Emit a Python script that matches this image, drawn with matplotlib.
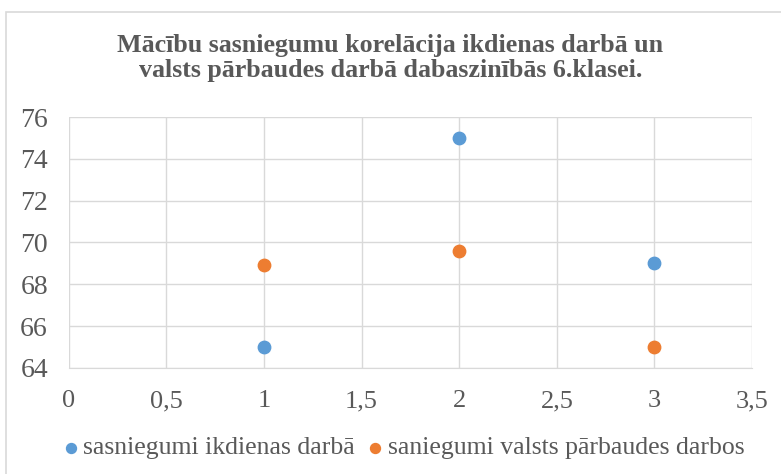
import matplotlib.pyplot as plt
from matplotlib.patches import Rectangle
from matplotlib.ticker import FuncFormatter

x_vals = [1, 2, 3]
ikdienas = [65, 75, 69]
parbaudes = [68.9, 69.6, 65]
labels = ["sasniegumi ikdienas darbā", "saniegumi valsts pārbaudes darbos"]
title = "Mācību sasniegumu korelācija ikdienas darbā un\nvalsts pārbaudes darbā dabaszinībās 6.klasei."

plt.rcParams['font.family'] = ['Liberation Serif', 'DejaVu Serif']

fig = plt.figure(figsize=(7.81, 4.74), dpi=100)
ax = fig.add_axes([0.088, 0.224, 0.875, 0.529])

# chart area border like in Excel
fig.patches.append(Rectangle((0.008, -0.01), 1.0, 0.985, transform=fig.transFigure,
                             fill=False, edgecolor='#d9d9d9', linewidth=1.2))

ax.scatter(x_vals, ikdienas, s=80, color='#5B9BD5', label=labels[0], zorder=3)
ax.scatter(x_vals, parbaudes, s=80, color='#ED7D31', label=labels[1], zorder=3)

ax.set_xlim(0, 3.5)
ax.set_ylim(64, 76)
ax.set_xticks([0, 0.5, 1, 1.5, 2, 2.5, 3, 3.5])
ax.set_yticks(range(64, 77, 2))
ax.xaxis.set_major_formatter(FuncFormatter(lambda v, p: ('%g' % v).replace('.', ',')))
ax.grid(True, color='#d9d9d9', linewidth=1)
ax.set_axisbelow(True)
for s in ['top', 'right', 'left']:
    ax.spines[s].set_visible(False)
ax.spines['bottom'].set_color('#d9d9d9')
ax.tick_params(length=0, labelcolor='#595959')
ax.tick_params(axis='x', pad=16, labelsize=19)
ax.tick_params(axis='y', pad=15, labelsize=20)

fig.text(0.5, 0.878, title, ha='center', va='center', fontsize=18.7, fontweight='bold',
         color='#595959', linespacing=1.12)

fig.legend(loc='center', bbox_to_anchor=(0.517, 0.055), ncol=2, frameon=False,
           fontsize=18.5, labelcolor='#595959', handlelength=0.6, handletextpad=0.2,
           columnspacing=0.48, markerscale=0.8)

fig.savefig('out.png', dpi=100)
